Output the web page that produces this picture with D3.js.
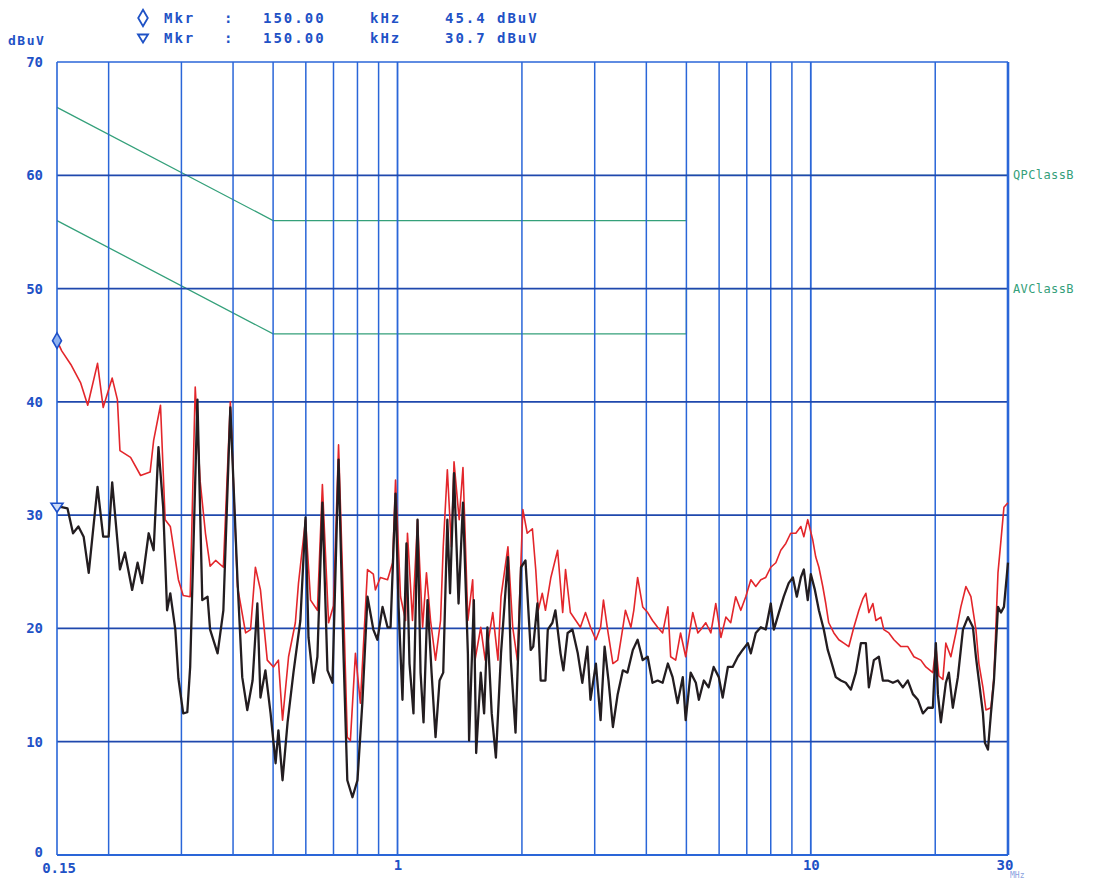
<!DOCTYPE html>
<html>
<head>
<meta charset="utf-8">
<script src="https://cdn.jsdelivr.net/npm/d3@7"></script>
<style>
  body { margin: 0; background: #ffffff; }
  svg { display: block; }
</style>
</head>
<body>
<svg id="chart" width="1112" height="879"></svg>
<script>
// Conducted emission scan, 150 kHz – 30 MHz (frequencies in MHz, levels in dBµV)

// Peak detector trace (red)
const peakFreq = [
  0.150, 0.154, 0.162, 0.171, 0.178, 0.188, 0.194, 0.204, 0.210, 0.213,
  0.226, 0.239, 0.252, 0.257, 0.267, 0.274, 0.282, 0.295, 0.303, 0.315,
  0.324, 0.333, 0.343, 0.352, 0.363, 0.379, 0.394, 0.410, 0.429, 0.441,
  0.453, 0.466, 0.484, 0.501, 0.515, 0.527, 0.545, 0.566, 0.576, 0.599,
  0.616, 0.640, 0.658, 0.681, 0.700, 0.720, 0.740, 0.756, 0.769, 0.791,
  0.813, 0.846, 0.874, 0.884, 0.909, 0.946, 0.973, 0.989, 1.017, 1.046,
  1.057, 1.087, 1.118, 1.150, 1.175, 1.202, 1.236, 1.271, 1.29, 1.32,
  1.35, 1.37, 1.41, 1.44, 1.48, 1.52, 1.54, 1.59, 1.63, 1.70,
  1.75, 1.78, 1.85, 1.90, 1.95, 2.01, 2.06, 2.12, 2.16, 2.19,
  2.24, 2.28, 2.35, 2.44, 2.51, 2.55, 2.62, 2.70, 2.77, 2.85,
  2.93, 3.02, 3.10, 3.15, 3.22, 3.32, 3.41, 3.51, 3.56, 3.67,
  3.73, 3.81, 3.92, 4.03, 4.14, 4.26, 4.38, 4.51, 4.58, 4.71,
  4.84, 4.98, 5.18, 5.33, 5.42, 5.57, 5.73, 5.89, 6.06, 6.23,
  6.40, 6.58, 6.77, 6.96, 7.16, 7.36, 7.57, 7.78, 8.00, 8.23,
  8.46, 8.70, 8.94, 9.20, 9.46, 9.62, 9.83, 10.11, 10.28, 10.46,
  10.69, 10.87, 11.05, 11.37, 11.69, 12.02, 12.36, 12.71, 13.07, 13.36,
  13.59, 13.82, 14.13, 14.37, 14.78, 15.02, 15.45, 15.89, 16.52, 17.17,
  17.76, 18.46, 18.98, 19.74, 20.07, 20.41, 20.87, 21.22, 21.82, 22.44,
  23.07, 23.73, 24.40, 25.09, 25.51, 26.09, 26.53, 27.28, 27.74, 28.37,
  28.85, 29.33, 30.0
];
const peakLevel = [
  45.4, 44.5, 43.3, 41.7, 39.7, 43.4, 39.5, 42.1, 40.2, 35.7,
  35.1, 33.5, 33.8, 36.6, 39.7, 29.6, 29.0, 24.3, 22.9, 22.8,
  41.3, 33.0, 28.4, 25.5, 26.0, 25.4, 40.0, 23.7, 19.6, 19.9,
  25.4, 23.4, 17.2, 16.6, 17.2, 11.9, 17.5, 20.5, 24.0, 29.6,
  22.5, 21.6, 32.7, 20.5, 22.0, 36.2, 22.2, 10.4, 10.1, 17.8,
  13.4, 25.2, 24.8, 23.4, 24.5, 24.3, 25.8, 33.1, 22.8, 20.7,
  28.4, 20.7, 29.6, 20.1, 24.9, 20.7, 17.2, 20.7, 27.2, 34.0,
  27.2, 34.7, 29.6, 34.2, 20.7, 24.3, 17.2, 20.1, 17.2, 21.4,
  17.2, 22.8, 27.2, 20.1, 17.2, 30.5, 28.4, 28.8, 25.2, 21.6,
  23.1, 21.6, 24.5, 26.9, 21.4, 25.2, 21.4, 20.7, 20.1, 21.4,
  20.1, 19.0, 20.1, 22.5, 20.0, 16.9, 17.2, 20.1, 21.6, 20.1,
  21.6, 24.5, 21.9, 21.4, 20.7, 20.1, 19.6, 21.9, 17.5, 17.2,
  19.6, 17.5, 21.4, 19.6, 19.9, 20.5, 19.6, 22.2, 19.2, 21.0,
  20.5, 22.8, 21.6, 22.8, 24.3, 23.7, 24.3, 24.5, 25.4, 25.8,
  26.9, 27.5, 28.4, 28.4, 29.0, 28.1, 29.6, 27.8, 26.3, 25.4,
  23.7, 22.2, 20.5, 19.6, 19.0, 18.7, 18.4, 20.1, 21.6, 22.6,
  23.1, 21.4, 22.2, 20.7, 21.0, 19.9, 19.6, 19.0, 18.4, 18.4,
  17.5, 17.2, 16.6, 16.1, 18.4, 15.8, 15.5, 18.7, 17.5, 19.6,
  21.9, 23.7, 22.8, 19.9, 16.9, 14.8, 12.8, 13.0, 15.7, 24.9,
  27.8, 30.7, 31.1
];

// Average detector trace (black)
const avgFreq = [
  0.150, 0.154, 0.159, 0.164, 0.169, 0.174, 0.179, 0.188, 0.194, 0.200,
  0.204, 0.213, 0.219, 0.228, 0.235, 0.241, 0.250, 0.257, 0.264, 0.271,
  0.277, 0.282, 0.290, 0.295, 0.303, 0.310, 0.315, 0.328, 0.337, 0.347,
  0.352, 0.367, 0.379, 0.394, 0.410, 0.421, 0.433, 0.446, 0.458, 0.466,
  0.479, 0.493, 0.507, 0.515, 0.527, 0.542, 0.560, 0.582, 0.599, 0.609,
  0.626, 0.640, 0.658, 0.677, 0.696, 0.720, 0.740, 0.756, 0.778, 0.800,
  0.822, 0.846, 0.874, 0.894, 0.920, 0.946, 0.962, 0.989, 1.006, 1.028,
  1.051, 1.069, 1.093, 1.118, 1.137, 1.156, 1.182, 1.209, 1.236, 1.264,
  1.29, 1.32, 1.34, 1.37, 1.405, 1.44, 1.48, 1.49, 1.53, 1.55,
  1.59, 1.62, 1.65, 1.69, 1.73, 1.78, 1.85, 1.88, 1.93, 1.99,
  2.04, 2.10, 2.13, 2.18, 2.22, 2.28, 2.31, 2.37, 2.41, 2.48,
  2.52, 2.58, 2.65, 2.73, 2.80, 2.88, 2.93, 3.02, 3.10, 3.17,
  3.24, 3.32, 3.41, 3.51, 3.60, 3.71, 3.81, 3.92, 4.03, 4.14,
  4.26, 4.38, 4.51, 4.63, 4.76, 4.90, 4.98, 5.12, 5.27, 5.36,
  5.51, 5.66, 5.82, 5.99, 6.12, 6.30, 6.47, 6.66, 6.84, 7.04,
  7.16, 7.36, 7.57, 7.78, 8.00, 8.14, 8.37, 8.60, 8.84, 9.05,
  9.25, 9.46, 9.62, 9.83, 10.0, 10.23, 10.46, 10.75, 10.99, 11.18,
  11.49, 11.82, 12.15, 12.50, 12.85, 13.22, 13.59, 13.82, 14.21, 14.61,
  14.94, 15.36, 15.80, 16.24, 16.70, 17.17, 17.66, 18.16, 18.67, 19.20,
  19.74, 20.07, 20.30, 20.64, 21.22, 21.58, 22.06, 22.69, 23.34, 24.00,
  24.68, 25.09, 25.51, 26.09, 26.38, 26.83, 27.28, 27.74, 28.37, 28.85,
  29.33, 30.0
];
const avgLevel = [
  30.7, 30.7, 30.6, 28.4, 29.0, 28.1, 24.9, 32.5, 28.1, 28.1,
  32.9, 25.2, 26.7, 23.4, 25.8, 24.0, 28.4, 26.9, 36.0, 30.7,
  21.6, 23.1, 19.9, 15.6, 12.5, 12.6, 16.6, 40.2, 22.5, 22.8,
  19.9, 17.8, 21.6, 39.5, 24.3, 15.7, 12.8, 15.4, 22.2, 13.9,
  16.3, 12.5, 8.1, 11.0, 6.6, 11.7, 16.1, 20.7, 29.8, 19.2,
  15.2, 17.5, 31.1, 16.3, 15.2, 34.9, 17.8, 6.6, 5.1, 6.6,
  13.4, 22.8, 19.9, 19.0, 21.9, 20.1, 20.1, 31.9, 21.9, 13.7,
  27.5, 16.9, 12.5, 29.6, 16.1, 11.7, 22.5, 16.1, 10.4, 15.4,
  16.1, 29.6, 23.1, 33.7, 22.2, 31.1, 17.8, 10.1, 22.5, 9.0,
  16.1, 12.5, 20.1, 12.5, 8.6, 17.8, 26.3, 17.2, 10.8, 25.4,
  26.0, 18.1, 18.4, 22.2, 15.4, 15.4, 19.9, 20.5, 21.6, 17.8,
  16.3, 19.6, 19.9, 17.8, 15.2, 18.4, 13.7, 16.9, 11.9, 18.4,
  15.4, 11.3, 14.2, 16.3, 16.1, 18.1, 19.0, 17.2, 17.5, 15.2,
  15.4, 15.2, 16.9, 15.7, 13.4, 15.7, 11.9, 16.1, 15.2, 13.7,
  15.4, 14.8, 16.6, 15.7, 13.9, 16.6, 16.6, 17.5, 18.1, 18.7,
  17.8, 19.6, 20.1, 19.9, 22.2, 19.9, 21.4, 22.8, 24.0, 24.5,
  22.8, 24.5, 25.2, 22.5, 24.8, 23.4, 21.6, 19.9, 18.1, 17.2,
  15.7, 15.4, 15.2, 14.6, 16.1, 18.7, 18.7, 14.8, 17.2, 17.5,
  15.4, 15.4, 15.2, 15.4, 14.8, 15.4, 14.2, 13.7, 12.5, 13.0,
  13.0, 18.7, 14.2, 11.7, 15.2, 16.1, 13.0, 15.7, 19.9, 21.0,
  20.1, 17.5, 15.4, 12.5, 9.9, 9.3, 12.5, 15.4, 21.9, 21.4,
  21.9, 25.8
];

// EN 55022 class B limits
const limitFreq = [0.15, 0.5, 5, 5, 30];
const qpLimitLevel = [66, 56, 56, 60, 60];
const avLimitLevel = [56, 46, 46, 50, 50];
const limitNames = ["QPClassB", "AVClassB"];

// Axis grid and labels
const gridFreqs = [0.2, 0.3, 0.4, 0.5, 0.6, 0.7, 0.8, 0.9, 1, 2, 3, 4, 5, 6, 7, 8, 9, 10, 20];
const levelTicks = [0, 10, 20, 30, 40, 50, 60, 70];
const freqLabels = [0.15, 1, 10, 30];

// Markers (frequency MHz, level dBµV)
const markerFreq = [0.15, 0.15];
const markerLevel = [45.4, 30.7];

const svg = d3.select("#chart");
const plotLeft = 57, plotRight = 1008, plotTop = 62, plotBottom = 855;

const x = d3.scaleLog().domain([0.15, 30]).range([plotLeft, plotRight]);
const y = d3.scaleLinear().domain([0, 70]).range([plotBottom, plotTop]);

const blue = "#2a66d8";
const darkBlue = "#1f48ad";
const green = "#34a07a";
const labelFont = "'DejaVu Sans Mono', 'Liberation Mono', monospace";

// Limit lines (under the grid, the flat tails coincide with grid lines)
const limitLine = d3.line().x(d => x(d[0])).y(d => y(d[1]));
[qpLimitLevel, avLimitLevel].forEach((lv) => {
  svg.append("path")
    .attr("d", limitLine(d3.zip(limitFreq, lv)))
    .attr("fill", "none")
    .attr("stroke", green)
    .attr("stroke-width", 1.3);
});

// Vertical grid
svg.append("g").selectAll("line").data(gridFreqs).join("line")
  .attr("x1", d => x(d)).attr("x2", d => x(d))
  .attr("y1", y(0)).attr("y2", y(70))
  .attr("stroke", blue)
  .attr("stroke-width", d => (d === 1 || d === 10) ? 1.8 : 1.5);

// Horizontal grid
svg.append("g").selectAll("line").data(levelTicks.filter(v => v > 0 && v < 70)).join("line")
  .attr("x1", x(0.15)).attr("x2", x(30))
  .attr("y1", d => y(d)).attr("y2", d => y(d))
  .attr("stroke", darkBlue)
  .attr("stroke-width", 1.8);

// Frame
svg.append("line").attr("x1", x(0.15)).attr("x2", x(30)).attr("y1", y(70)).attr("y2", y(70))
  .attr("stroke", blue).attr("stroke-width", 1.6);
svg.append("line").attr("x1", x(0.15)).attr("x2", x(30)).attr("y1", y(0)).attr("y2", y(0))
  .attr("stroke", blue).attr("stroke-width", 1.8);
svg.append("line").attr("x1", x(0.15)).attr("x2", x(0.15)).attr("y1", y(0)).attr("y2", y(70))
  .attr("stroke", blue).attr("stroke-width", 1.6);
svg.append("line").attr("x1", x(30)).attr("x2", x(30)).attr("y1", y(0)).attr("y2", y(70))
  .attr("stroke", blue).attr("stroke-width", 2.6);

// Traces
const trace = d3.line().x(d => x(d[0])).y(d => y(d[1]));
svg.append("path")
  .attr("d", trace(d3.zip(peakFreq, peakLevel)))
  .attr("fill", "none").attr("stroke", "#e3262b")
  .attr("stroke-width", 1.6).attr("stroke-linejoin", "round");
svg.append("path")
  .attr("d", trace(d3.zip(avgFreq, avgLevel)))
  .attr("fill", "none").attr("stroke", "#231d20")
  .attr("stroke-width", 2.3).attr("stroke-linejoin", "round");

// Marker symbols on the traces
const diamond = d3.symbol().type(d3.symbolDiamond).size(70);
const triDown = "M-6,-4 L6,-4 L0,5 Z";
svg.append("path").attr("d", diamond())
  .attr("transform", `translate(${x(markerFreq[0])},${y(markerLevel[0])})`)
  .attr("fill", "#8fb2f0").attr("stroke", "#1d4fc8").attr("stroke-width", 1.6);
svg.append("path").attr("d", triDown)
  .attr("transform", `translate(${x(markerFreq[1])},${y(markerLevel[1])})`)
  .attr("fill", "#cfdcf8").attr("stroke", "#1d4fc8").attr("stroke-width", 1.6);

// Y axis labels
const yAxis = d3.axisLeft(y).tickValues(levelTicks).tickSize(0).tickPadding(0).tickFormat(d3.format("d"));
const gy = svg.append("g").attr("transform", "translate(43,0)").call(yAxis);
gy.select(".domain").remove();
gy.selectAll("text")
  .attr("fill", "#1f52c6").attr("font-family", labelFont)
  .attr("font-size", 14).attr("font-weight", "bold");
gy.selectAll(".tick").filter(d => d === 0).select("text").attr("dy", "0.1em");

// X axis labels
const xAxis = d3.axisBottom(x).tickValues(freqLabels).tickSize(0).tickPadding(0)
  .tickFormat(d => d === 0.15 ? "0.15" : String(d));
const gx = svg.append("g").attr("transform", `translate(0,${plotBottom + 5})`).call(xAxis);
gx.select(".domain").remove();
gx.selectAll("text")
  .attr("fill", "#1f52c6").attr("font-family", labelFont)
  .attr("font-size", 14).attr("font-weight", "bold");
gx.selectAll(".tick").filter(d => d === 0.15).attr("transform", `translate(${x(0.15) + 2},3)`);
gx.selectAll(".tick").filter(d => d === 30).attr("transform", `translate(${x(30) - 3},0)`);

// Unit of the frequency axis, tucked under the last label
svg.append("text").attr("x", x(30) + 2).attr("y", 878)
  .attr("fill", "#1f52c6").attr("font-family", labelFont).attr("font-size", 8)
  .attr("text-anchor", "start").attr("opacity", 0.55).text("MHz");

// Unit label
svg.append("text").attr("x", 8).attr("y", 45)
  .attr("fill", "#1f52c6").attr("font-family", labelFont)
  .attr("font-size", 13).attr("font-weight", "bold").attr("letter-spacing", 1.5)
  .text("dBuV");

// Limit names at the right edge
limitNames.forEach((name, i) => {
  const lv = i === 0 ? qpLimitLevel : avLimitLevel;
  svg.append("text")
    .attr("x", x(30) + 5).attr("y", y(lv[lv.length - 1]) + 4)
    .attr("fill", green).attr("font-family", labelFont).attr("font-size", 12)
    .attr("letter-spacing", 0.4)
    .text(name);
});

// Marker readout header
const headerY = [23, 43];
markerLevel.forEach((lv, i) => {
  const g = svg.append("g").attr("fill", "#1f52c6")
    .attr("font-family", labelFont).attr("font-size", 14).attr("font-weight", "bold");
  const cy = headerY[i] - 5;
  if (i === 0) {
    svg.append("path").attr("d", d3.symbol().type(d3.symbolDiamond).size(80)())
      .attr("transform", `translate(143,${cy})`)
      .attr("fill", "none").attr("stroke", "#1f52c6").attr("stroke-width", 1.8);
  } else {
    svg.append("path").attr("d", "M-5,-3.5 L5,-3.5 L0,4.5 Z")
      .attr("transform", `translate(143,${cy})`)
      .attr("fill", "none").attr("stroke", "#1f52c6").attr("stroke-width", 1.8);
  }
  const parts = [
    ["Mkr", 164], [":", 224],
    [(markerFreq[i] * 1000).toFixed(2), 263], ["kHz", 370],
    [lv.toFixed(1), 445], ["dBuV", 497]
  ];
  parts.forEach(([t, px]) => {
    g.append("text").attr("x", px).attr("y", headerY[i])
      .attr("letter-spacing", 2).text(t);
  });
});
</script>
</body>
</html>
